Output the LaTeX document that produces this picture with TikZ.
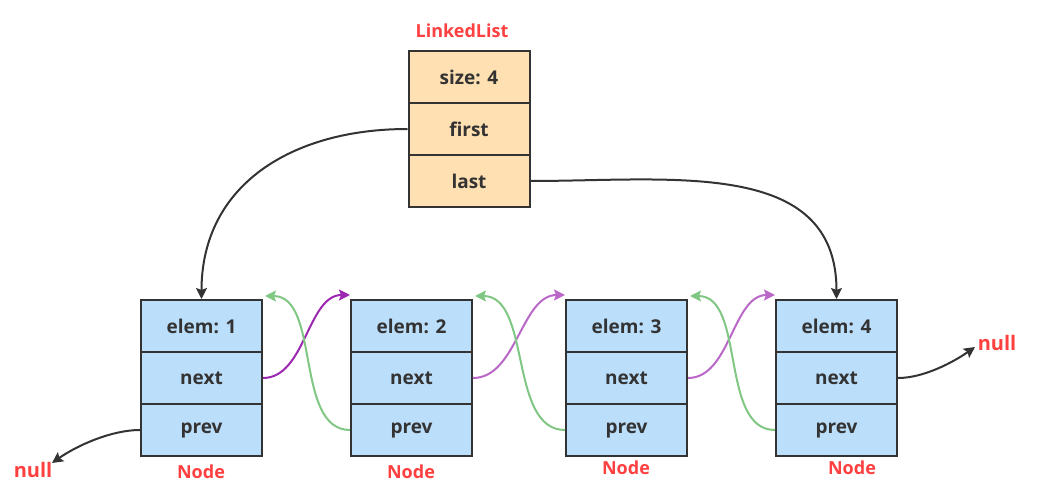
\documentclass[tikz,border=0pt]{standalone}
\usepackage{fontspec}
\setmainfont{Open Sans}
\usetikzlibrary{arrows.meta}
\definecolor{cellorange}{HTML}{FFE0B2}
\definecolor{cellblue}{HTML}{BBDEFB}
\definecolor{edgegray}{HTML}{333333}
\definecolor{labelred}{HTML}{FF4040}
\definecolor{darkpurple}{HTML}{9C27B0}
\definecolor{lightpurple}{HTML}{BA68C8}
\definecolor{lightgreen}{HTML}{81C784}
\tikzset{
  cell/.style={draw=edgegray, line width=2pt, minimum width=121pt, minimum height=52pt,
    inner sep=0pt, text=edgegray, font=\fontsize{19}{22}\selectfont\bfseries},
  ocell/.style={cell, fill=cellorange},
  bcell/.style={cell, fill=cellblue},
  redlabel/.style={text=labelred, font=\fontsize{18}{22}\selectfont\bfseries, inner sep=0pt},
  nulllabel/.style={text=labelred, font=\fontsize{20}{24}\selectfont\bfseries, inner sep=0pt},
  tip/.style={-{Stealth[length=11pt,width=11pt,inset=2pt]}},
  blackarrow/.style={tip, draw=edgegray, line width=2pt},
  nextarrow/.style={tip, draw=lightpurple, line width=2pt},
  prevarrow/.style={tip, draw=lightgreen, line width=2pt},
}
\begin{document}
\begin{tikzpicture}[x=1pt,y=-1pt]
\useasboundingbox (0,0) rectangle (1037,495);
% LinkedList
\node[redlabel] (lltitle) at (462,31) {LinkedList};
\node[ocell] (size) at (469,77) {size: 4};
\node[ocell] (first) at (469,129) {first};
\node[ocell] (last) at (469,181) {last};
% Nodes
\foreach \i/\x in {1/201.5,2/411.5,3/626.5,4/836.5}{
  \node[bcell] (e\i) at (\x,326) {elem: \i};
  \node[bcell] (n\i) at (\x,378) {next};
  \node[bcell] (p\i) at (\x,430) {prev};
}
\node[redlabel] (lab1) at (201,472) {Node};
\node[redlabel] (lab2) at (411,472) {Node};
\node[redlabel] (lab3) at (626,468) {Node};
\node[redlabel] (lab4) at (852,468) {Node};
\node[nulllabel] (nullr) at (997,343) {null};
\node[nulllabel] (nulll) at (33,470) {null};
\coordinate (nullrend) at (975,347);
\coordinate (nulllend) at (52,463);
% first / last
\draw[blackarrow] (first.west) to[out=180,in=90,looseness=1.1] (e1.north);
\draw[blackarrow] (last.east) to[out=0,in=90,looseness=1.1] (e4.north);
% next arrows
\draw[nextarrow, draw=darkpurple] (n1.east) to[out=0,in=180,looseness=0.9] ([yshift=4pt]e2.north west);
\draw[nextarrow] (n2.east) to[out=0,in=180,looseness=0.9] ([yshift=4pt]e3.north west);
\draw[nextarrow] (n3.east) to[out=0,in=180,looseness=0.9] ([yshift=4pt]e4.north west);
% prev arrows
\draw[prevarrow] (p2.west) to[out=180,in=0,looseness=0.9] ([xshift=2pt,yshift=3pt]e1.north east);
\draw[prevarrow] (p3.west) to[out=180,in=0,looseness=0.9] ([xshift=2pt,yshift=3pt]e2.north east);
\draw[prevarrow] (p4.west) to[out=180,in=0,looseness=0.9] ([xshift=2pt,yshift=3pt]e3.north east);
% null arrows
\draw[blackarrow] (n4.east) to[out=0,in=215,looseness=0.8] (nullrend);
\draw[blackarrow] (p1.west) to[out=180,in=35,looseness=0.8] (nulllend);
\end{tikzpicture}
\end{document}
